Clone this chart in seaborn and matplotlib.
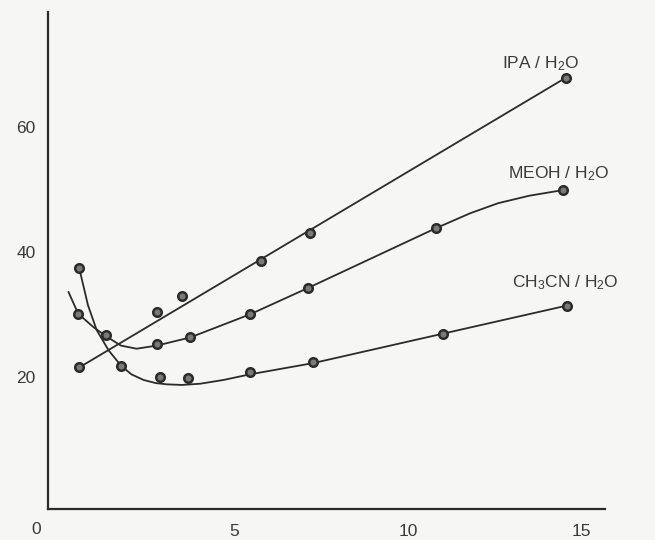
import matplotlib
matplotlib.use("Agg")
import matplotlib.pyplot as plt
import seaborn as sns

ipa_x = [0.55, 5.78, 7.19, 14.55]
ipa_y = [21.5, 38.6, 43.1, 67.9]
ipa_extra_x = [2.80, 3.50]
ipa_extra_y = [30.4, 33.0]

meoh_x = [0.52, 1.32, 2.78, 3.74, 5.46, 7.12, 10.81, 14.47]
meoh_y = [30.1, 26.7, 25.3, 26.3, 30.1, 34.2, 43.8, 49.9]

ch3cn_x = [0.55, 1.75, 2.88, 3.69, 5.46, 7.28, 11.00, 14.57]
ch3cn_y = [37.4, 21.8, 20.0, 19.8, 20.8, 22.3, 26.9, 31.4]

# hand-drawn curves
ipa_curve_x = [0.55, 14.55]
ipa_curve_y = [21.5, 67.9]
meoh_curve_x = [0.24, 0.52, 0.95, 1.32, 1.75, 2.2, 2.78, 3.74, 5.46, 7.12, 10.81,
                11.8, 12.6, 13.5, 14.47]
meoh_curve_y = [33.6, 30.1, 28.0, 26.5, 25.0, 24.5, 25.0, 26.3, 30.0, 34.2, 43.8,
                46.2, 47.8, 49.0, 49.9]
ch3cn_curve_x = [0.55, 0.8, 1.05, 1.4, 1.75, 2.05, 2.4, 2.75, 3.07, 3.5, 4.03, 4.7,
                 5.46, 7.28, 11.00, 14.57]
ch3cn_curve_y = [37.4, 31.5, 27.5, 24.2, 21.8, 20.4, 19.5, 19.0, 18.8, 18.7, 18.9, 19.5,
                 20.4, 22.2, 26.9, 31.4]

series_labels = ["IPA / H$_2$O", "MEOH / H$_2$O", "CH$_3$CN / H$_2$O"]
label_x = [12.70, 12.89, 12.99]
label_y = [70.1, 52.5, 35.0]

sns.set_style("white")
plt.rcParams["font.family"] = ["Liberation Sans", "DejaVu Sans"]
plt.rcParams["mathtext.default"] = "regular"

ink = "#2b2b2b"
bg = "#f6f6f4"

fig = plt.figure(figsize=(6.55, 5.4), dpi=100, facecolor=bg)
ax = fig.add_axes([0.0737, 0.0569, 0.85, 0.9209])
ax.set_facecolor(bg)

curves = [(ipa_curve_x, ipa_curve_y), (meoh_curve_x, meoh_curve_y), (ch3cn_curve_x, ch3cn_curve_y)]
for cx, cy in curves:
    sns.lineplot(x=cx, y=cy, sort=False, color=ink, linewidth=1.3, ax=ax)

points = [(ipa_x, ipa_y), (ipa_extra_x, ipa_extra_y), (meoh_x, meoh_y), (ch3cn_x, ch3cn_y)]
for px, py in points:
    sns.scatterplot(x=px, y=py, s=38, color="#7a7a7a", edgecolor=ink, linewidth=1.8,
                    zorder=3, ax=ax)

for lab, lx, ly in zip(series_labels, label_x, label_y):
    ax.text(lx, ly, lab, fontsize=12.5, color="#3a3a3a", va="center", ha="left")

ax.set_xlim(-0.34, 15.67)
ax.set_ylim(-1.2, 78.4)
ax.set_xticks([5, 10, 15])
ax.set_yticks([20, 40, 60])
ax.tick_params(axis="x", direction="inout", length=9, width=1.5, colors=ink,
               labelsize=12.5, labelcolor="#3a3a3a", pad=6)
ax.tick_params(axis="y", direction="inout", length=12, width=1.5, colors=ink,
               labelsize=12.5, labelcolor="#3a3a3a", pad=3)
ax.text(-0.7, -4.4, "0", fontsize=12.5, color="#3a3a3a", ha="center", va="center",
        clip_on=False)

sns.despine(ax=ax)
for side in ["left", "bottom"]:
    ax.spines[side].set_color(ink)
    ax.spines[side].set_linewidth(1.6)

fig.savefig("out.png", dpi=100, facecolor=bg)
